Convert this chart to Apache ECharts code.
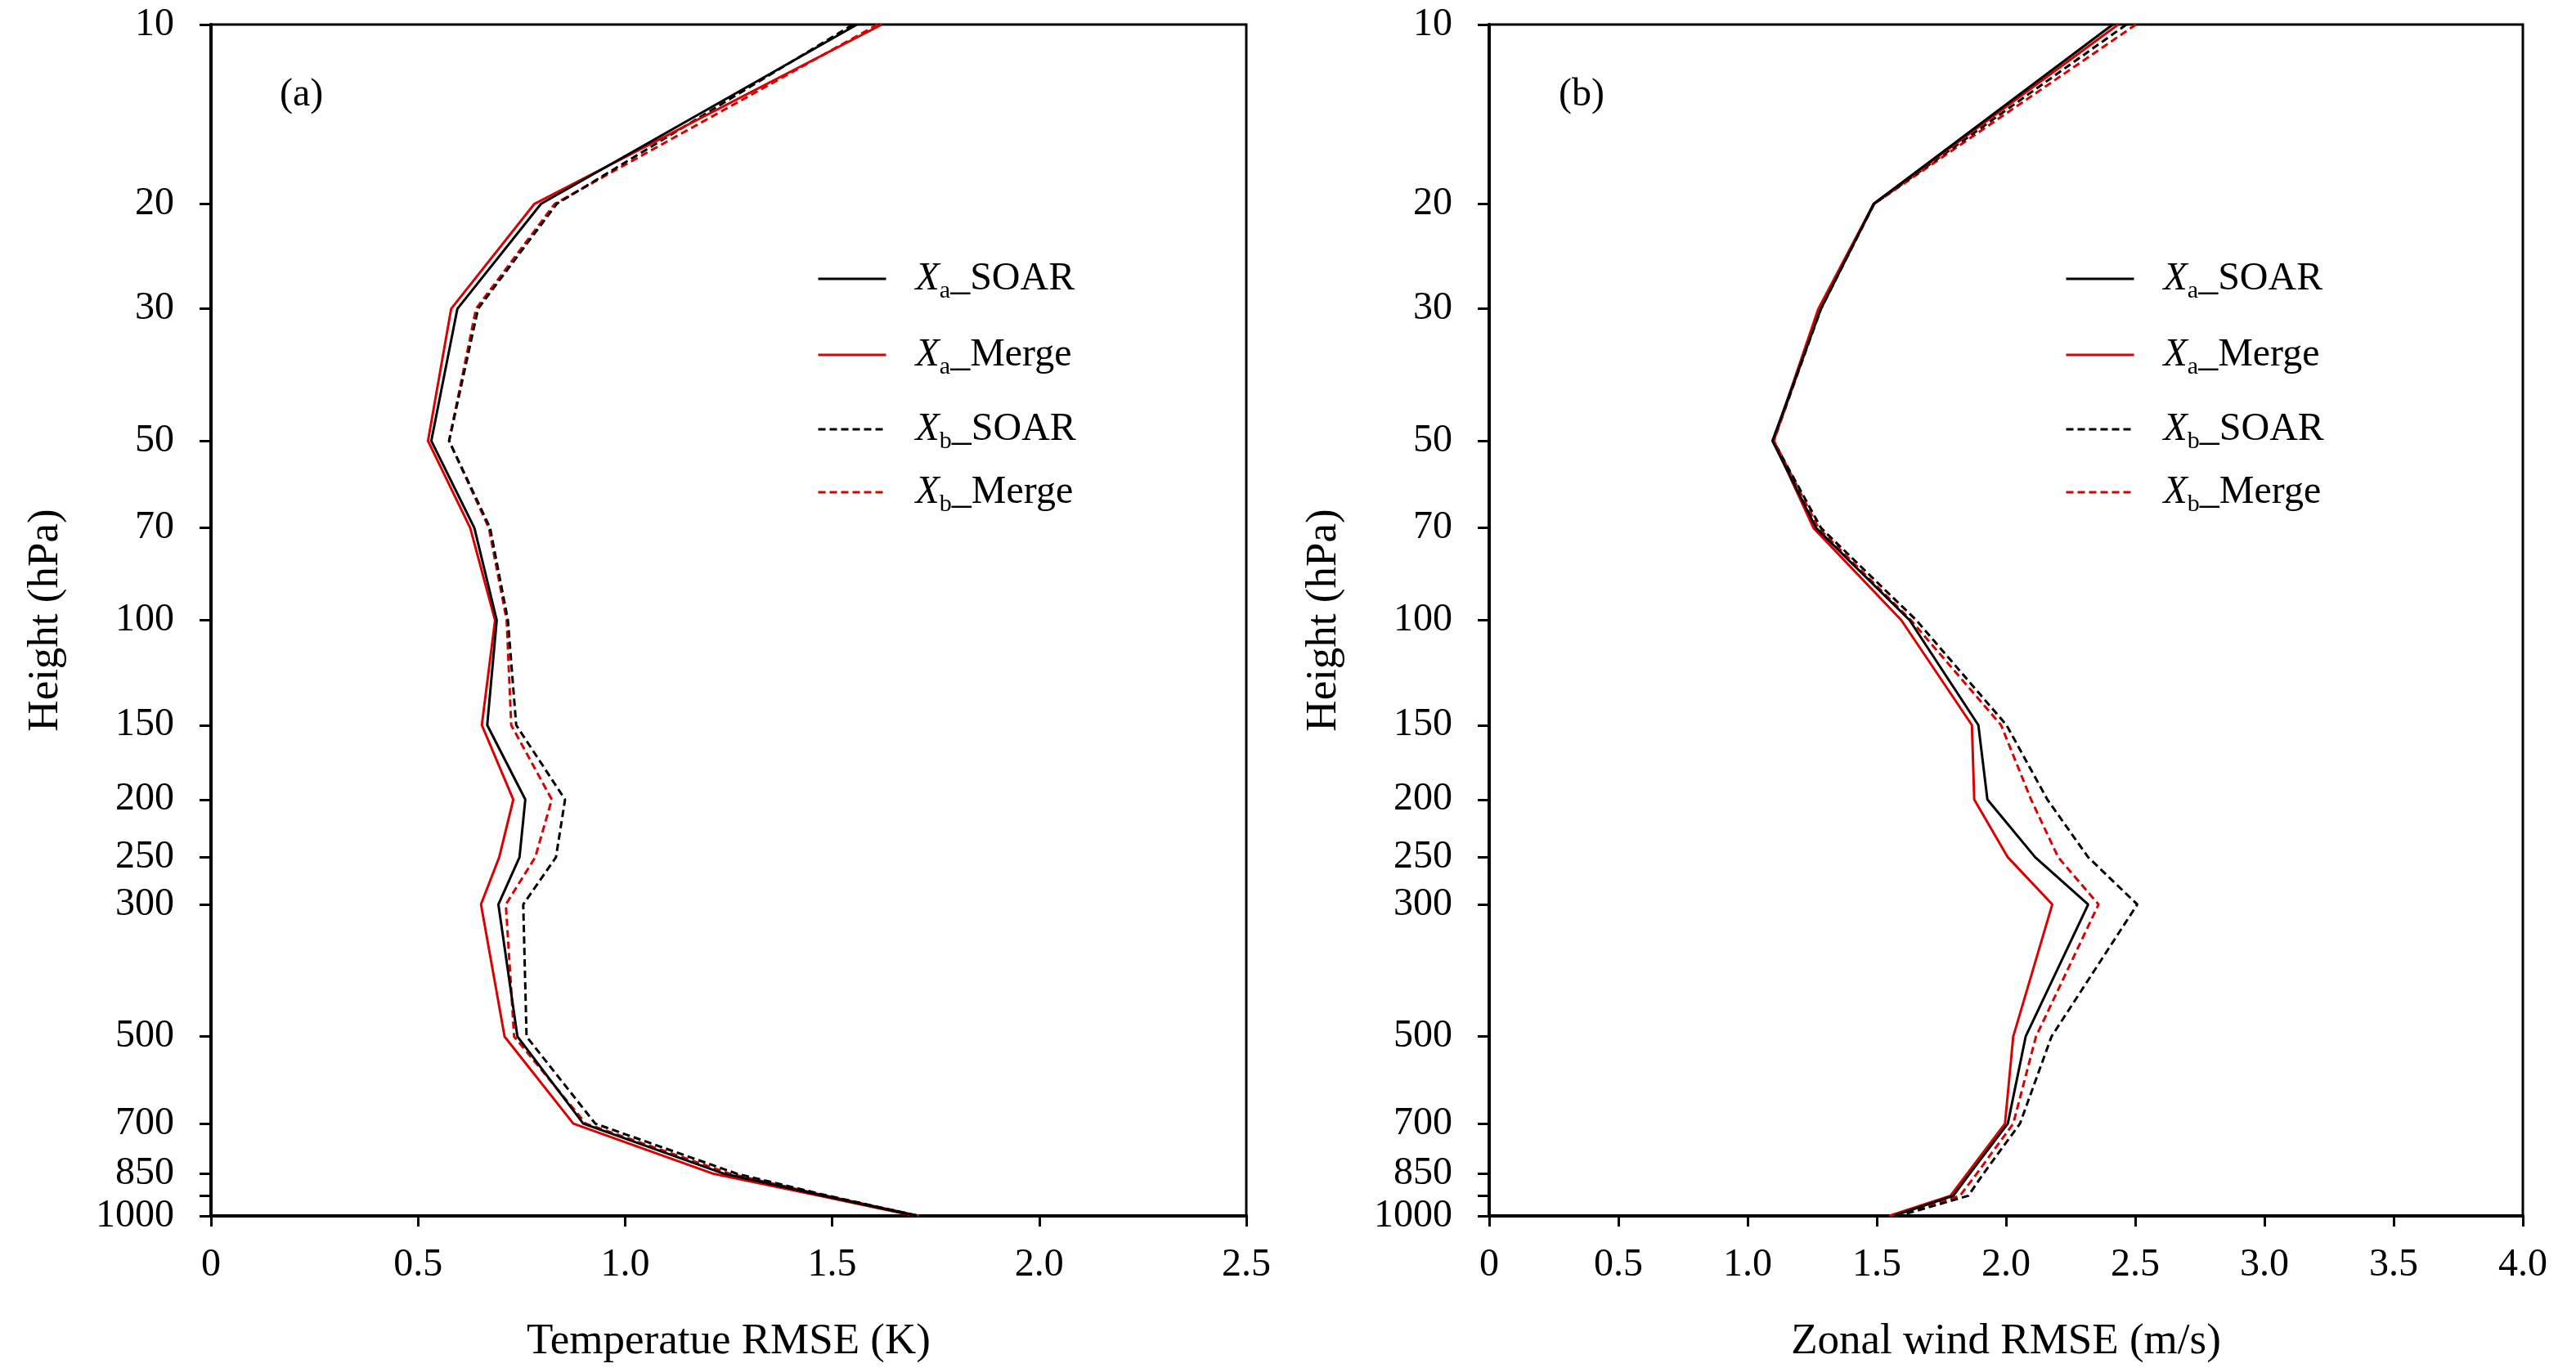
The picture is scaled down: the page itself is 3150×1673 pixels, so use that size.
<!DOCTYPE html>
<html>
<head>
<meta charset="utf-8">
<script src="https://cdn.jsdelivr.net/npm/echarts@6/dist/echarts.min.js"></script>
<style>
  html, body { margin: 0; padding: 0; background: #fff; }
  #main { width: 3150px; height: 1673px; }
</style>
</head>
<body>
<div id="main"></div>
<script>
// pressure levels (hPa)
var levels = [10, 20, 30, 50, 70, 100, 150, 200, 250, 300, 500, 700, 850, 925, 1000];
var tickLevels = [10, 20, 30, 50, 70, 100, 150, 200, 250, 300, 500, 700, 850, 925, 1000];
var labelLevels = [10, 20, 30, 50, 70, 100, 150, 200, 250, 300, 500, 700, 850, 1000];

// (a) temperature RMSE (K)
var tXaSoar  = [1.56, 0.797, 0.595, 0.532, 0.636, 0.690, 0.667, 0.759, 0.745, 0.694, 0.740, 0.899, 1.240, 1.478, 1.705];
var tXaMerge = [1.62, 0.781, 0.580, 0.524, 0.626, 0.686, 0.654, 0.730, 0.696, 0.652, 0.709, 0.875, 1.214, 1.469, 1.700];
var tXbSoar  = [1.55, 0.835, 0.645, 0.575, 0.674, 0.717, 0.737, 0.855, 0.833, 0.754, 0.762, 0.928, 1.271, 1.490, 1.710];
var tXbMerge = [1.61, 0.830, 0.640, 0.575, 0.671, 0.714, 0.725, 0.823, 0.783, 0.712, 0.732, 0.905, 1.254, 1.485, 1.710];

// (b) zonal wind RMSE (m/s)
var uXaSoar  = [2.413, 1.488, 1.284, 1.096, 1.265, 1.627, 1.893, 1.928, 2.113, 2.318, 2.076, 2.007, 1.859, 1.796, 1.564];
var uXaMerge = [2.434, 1.488, 1.274, 1.100, 1.255, 1.595, 1.868, 1.877, 2.007, 2.179, 2.028, 1.996, 1.849, 1.785, 1.548];
var uXbSoar  = [2.466, 1.490, 1.284, 1.100, 1.284, 1.653, 2.002, 2.160, 2.318, 2.508, 2.176, 2.054, 1.912, 1.854, 1.585];
var uXbMerge = [2.503, 1.490, 1.280, 1.102, 1.274, 1.632, 1.981, 2.097, 2.202, 2.358, 2.116, 2.028, 1.886, 1.822, 1.570];

var FONT = 'Liberation Serif';
var RED = '#dc0000';

function pairs(vals) {
  return vals.map(function (v, i) { return [v, levels[i]]; });
}

var chart = echarts.init(document.getElementById('main'), null, { renderer: 'canvas' });

function xAxisCfg(idx, max, name) {
  return {
    type: 'value', gridIndex: idx, min: 0, max: max, interval: 0.5,
    name: name, nameLocation: 'middle', nameGap: 128,
    nameTextStyle: { fontFamily: FONT, fontSize: 53, color: '#000' },
    axisLine: { onZero: false, lineStyle: { color: '#000', width: 4 } },
    axisTick: { length: 13, lineStyle: { color: '#000', width: 3 } },
    axisLabel: {
      margin: 36, fontFamily: FONT, fontSize: 48, color: '#000',
      formatter: function (v) { return v === 0 ? '0' : v.toFixed(1); }
    },
    splitLine: { show: false }
  };
}

function yAxisCfg(idx) {
  return {
    type: 'log', logBase: 10, gridIndex: idx, min: 10, max: 1000, inverse: true,
    name: 'Height (hPa)', nameLocation: 'middle', nameGap: 175, nameRotate: 90,
    nameTextStyle: { fontFamily: FONT, fontSize: 53, color: '#000' },
    axisLine: { lineStyle: { color: '#000', width: 4 } },
    axisTick: { length: 14, customValues: tickLevels, lineStyle: { color: '#000', width: 3 } },
    axisLabel: {
      margin: 45, fontFamily: FONT, fontSize: 48, color: '#000',
      customValues: labelLevels,
      formatter: function (v) { return String(Math.round(v)); }
    },
    splitLine: { show: false },
    minorTick: { show: false }
  };
}

var names = ['Xa_SOAR', 'Xa_Merge', 'Xb_SOAR', 'Xb_Merge'];
var richNames = {
  'Xa_SOAR': '{x|X}{s|a}{n|_SOAR}',
  'Xa_Merge': '{x|X}{s|a}{n|_Merge}',
  'Xb_SOAR': '{x|X}{s|b}{n|_SOAR}',
  'Xb_Merge': '{x|X}{s|b}{n|_Merge}'
};
var DASH = [9, 5];
var styles = [
  { color: '#000', type: 'solid' },
  { color: RED, type: 'solid' },
  { color: '#000', type: DASH },
  { color: RED, type: DASH }
];
var legendRows = [338, 431, 522, 599];

function mkSeries(idx, arrs) {
  return arrs.map(function (a, k) {
    return {
      name: names[k], type: 'line', xAxisIndex: idx, yAxisIndex: idx,
      data: pairs(a), symbol: 'none', showSymbol: false, animation: false,
      color: styles[k].color,
      lineStyle: { color: styles[k].color, width: 3, type: styles[k].type },
      z: 4 - k
    };
  });
}

function mkLegends(lineLeft) {
  return names.map(function (n, k) {
    return {
      data: [n], left: lineLeft, top: legendRows[k] - 26,
      itemWidth: 83, itemHeight: 20, selectedMode: false,
      itemStyle: { opacity: 0 },
      lineStyle: { width: 3 },
      formatter: function (name) { return richNames[name]; },
      textStyle: {
        fontFamily: FONT, color: '#000', padding: [0, 0, 0, 31],
        rich: {
          x: { fontFamily: FONT, fontSize: 48, fontStyle: 'italic', lineHeight: 60, color: '#000' },
          s: { fontFamily: FONT, fontSize: 30, lineHeight: 26, verticalAlign: 'bottom', color: '#000' },
          n: { fontFamily: FONT, fontSize: 48, lineHeight: 60, color: '#000' }
        }
      }
    };
  });
}

chart.setOption({
  animation: false,
  backgroundColor: '#fff',
  grid: [
    { left: 258, top: 30, width: 1266, height: 1468, show: true, borderColor: '#000', borderWidth: 3 },
    { left: 1821, top: 30, width: 1264, height: 1468, show: true, borderColor: '#000', borderWidth: 3 }
  ],
  xAxis: [
    xAxisCfg(0, 2.5, 'Temperatue RMSE (K)'),
    xAxisCfg(1, 4.0, 'Zonal wind RMSE (m/s)')
  ],
  yAxis: [yAxisCfg(0), yAxisCfg(1)],
  legend: mkLegends(994).concat(mkLegends(2520)),
  graphic: [
    { type: 'text', left: 342, top: 92, style: { text: '(a)', font: '48px "Liberation Serif"', fill: '#000' } },
    { type: 'text', left: 1906, top: 92, style: { text: '(b)', font: '48px "Liberation Serif"', fill: '#000' } }
  ],
  series: mkSeries(0, [tXaSoar, tXaMerge, tXbSoar, tXbMerge])
    .concat(mkSeries(1, [uXaSoar, uXaMerge, uXbSoar, uXbMerge]))
});
</script>
</body>
</html>
